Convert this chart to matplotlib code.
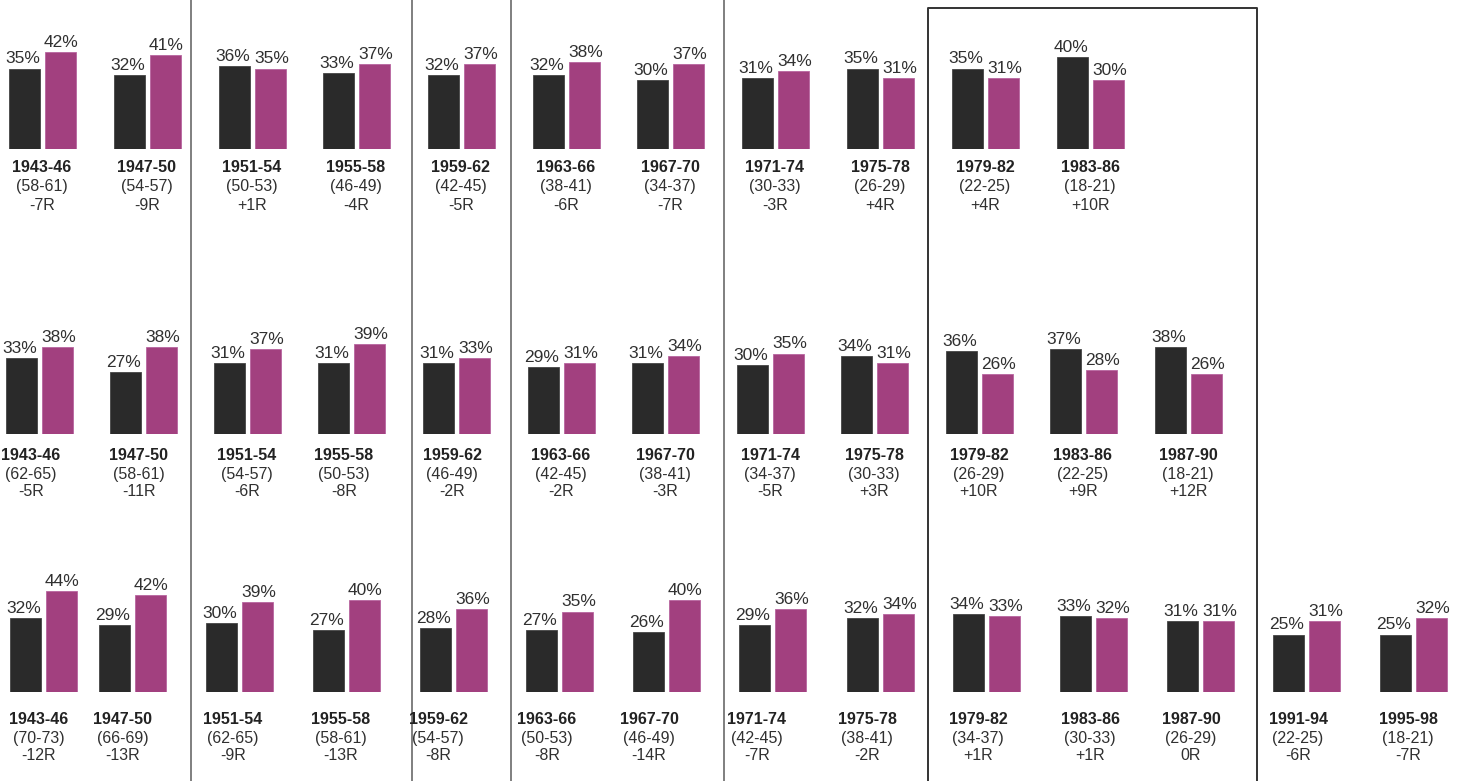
import matplotlib
matplotlib.use('Agg')
import matplotlib.pyplot as plt

plt.rcParams['font.family'] = ['Liberation Sans', 'DejaVu Sans']

# row 1
periods1 = ['1943-46', '1947-50', '1951-54', '1955-58', '1959-62', '1963-66', '1967-70',
            '1971-74', '1975-78', '1979-82', '1983-86']
ages1 = ['(58-61)', '(54-57)', '(50-53)', '(46-49)', '(42-45)', '(38-41)', '(34-37)',
         '(30-33)', '(26-29)', '(22-25)', '(18-21)']
shift1 = ['-7R', '-9R', '+1R', '-4R', '-5R', '-6R', '-7R', '-3R', '+4R', '+4R', '+10R']
black1 = [35, 32, 36, 33, 32, 32, 30, 31, 35, 35, 40]
pink1 = [42, 41, 35, 37, 37, 38, 37, 34, 31, 31, 30]

# row 2
periods2 = periods1 + ['1987-90']
ages2 = ['(62-65)', '(58-61)', '(54-57)', '(50-53)', '(46-49)', '(42-45)', '(38-41)',
         '(34-37)', '(30-33)', '(26-29)', '(22-25)', '(18-21)']
shift2 = ['-5R', '-11R', '-6R', '-8R', '-2R', '-2R', '-3R', '-5R', '+3R', '+10R', '+9R', '+12R']
black2 = [33, 27, 31, 31, 31, 29, 31, 30, 34, 36, 37, 38]
pink2 = [38, 38, 37, 39, 33, 31, 34, 35, 31, 26, 28, 26]

# row 3
periods3 = periods2 + ['1991-94', '1995-98']
ages3 = ['(70-73)', '(66-69)', '(62-65)', '(58-61)', '(54-57)', '(50-53)', '(46-49)',
         '(42-45)', '(38-41)', '(34-37)', '(30-33)', '(26-29)', '(22-25)', '(18-21)']
shift3 = ['-12R', '-13R', '-9R', '-13R', '-8R', '-8R', '-14R', '-7R', '-2R', '+1R', '+1R',
          '0R', '-6R', '-7R']
black3 = [32, 29, 30, 27, 28, 27, 26, 29, 32, 34, 33, 31, 25, 25]
pink3 = [44, 42, 39, 40, 36, 35, 40, 36, 34, 33, 32, 31, 31, 32]

# layout (pixels)
W, H = 1466, 781
centers1 = [42, 147, 252, 356, 461, 566, 670, 775, 880, 985, 1090]
centers2 = [39, 143, 247, 351, 456, 561, 665, 770, 874, 979, 1083, 1188]
centers3 = [43, 132, 239, 346, 453, 559, 666, 772, 880, 986, 1093, 1200, 1306, 1413]
label_shift1 = [0] * 11
label_shift2 = [-8, -4, 0, -7, -4, 0, 0, 0, 0, 0, 0, 0]
label_shift3 = [-4, -9, -6, -5, -15, -12, -17, -15, -13, -8, -3, -9, -8, -5]
baselines = [149, 434, 692]
text_off = [19, 21, 27]
PX_PER_PCT = 2.3
BAR_W = 31
HALF = 18

BLACK = '#2a2a2a'
PINK = '#a2407f'
TXT = '#303030'

rows = [
    (periods1, ages1, shift1, black1, pink1, centers1, label_shift1),
    (periods2, ages2, shift2, black2, pink2, centers2, label_shift2),
    (periods3, ages3, shift3, black3, pink3, centers3, label_shift3),
]

fig = plt.figure(figsize=(W / 100, H / 100), dpi=100)

# separators and box
over = fig.add_axes([0, 0, 1, 1], zorder=0)
over.set_xlim(0, W)
over.set_ylim(H, 0)
over.axis('off')
for x in [191, 412, 511, 724]:
    over.plot([x, x], [0, H], color='#6a6a6a', lw=1.2)
over.plot([928, 928, 1257, 1257], [H, 8, 8, H], color='#333333', lw=1.4)

pt = 72 / 100  # points per pixel
for i, (periods, ages, shifts, blk, pnk, centers, lshift) in enumerate(rows):
    base = baselines[i]
    hgt = 55 * PX_PER_PCT
    ax = fig.add_axes([0, (H - base) / H, 1, hgt / H], zorder=1)
    ax.set_xlim(0, W)
    ax.set_ylim(0, 55)
    ax.axis('off')
    xb = [c - HALF for c in centers]
    xp = [c + HALF for c in centers]
    ax.bar(xb, blk, width=BAR_W, color=BLACK, edgecolor='#444444', linewidth=0.6)
    ax.bar(xp, pnk, width=BAR_W, color=PINK, edgecolor='#b865a0', linewidth=0.6)
    for x, v in zip(xb, blk):
        ax.annotate(f'{v}%', (x, v), xytext=(-1, 1.5), textcoords='offset points',
                    ha='center', va='bottom', fontsize=12.5, color=TXT)
    for x, v in zip(xp, pnk):
        ax.annotate(f'{v}%', (x, v), xytext=(1, 1.5), textcoords='offset points',
                    ha='center', va='bottom', fontsize=12.5, color=TXT)
    for c, s, p, a, r in zip(centers, lshift, periods, ages, shifts):
        off = text_off[i]
        ax.annotate(p, (c, 0), xytext=(s * pt, -off * pt), textcoords='offset points',
                    ha='center', va='center', fontsize=11.5, fontweight='bold',
                    color='#222222', annotation_clip=False)
        ax.annotate(a, (c, 0), xytext=(s * pt, -(off + 19) * pt), textcoords='offset points',
                    ha='center', va='center', fontsize=11.5, color=TXT,
                    annotation_clip=False)
        ax.annotate(r, (c, 0), xytext=(s * pt, -(off + 37) * pt), textcoords='offset points',
                    ha='center', va='center', fontsize=11.5, color=TXT,
                    annotation_clip=False)

fig.savefig('out.png', dpi=100, facecolor='white')
